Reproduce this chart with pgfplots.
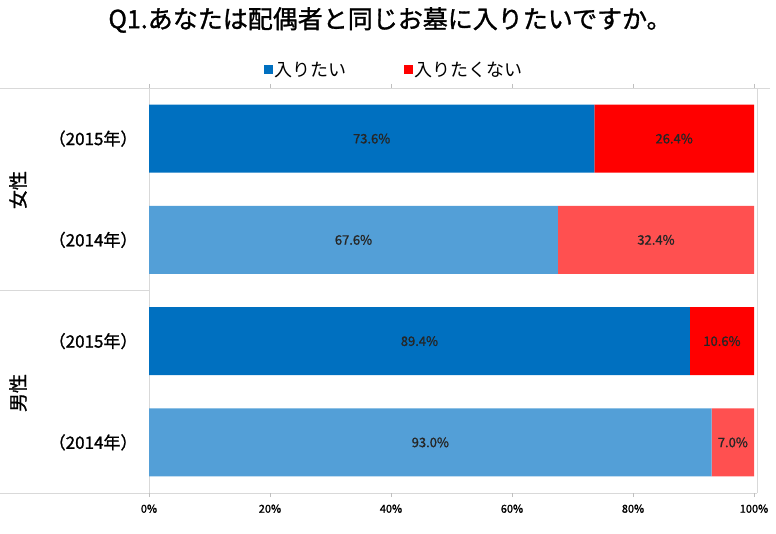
\documentclass[border=0pt]{standalone}
\usepackage{fontspec}
\setmainfont{Noto Sans CJK JP}
\newfontfamily\semibold[FakeBold=1.2]{Noto Sans CJK JP}
\usepackage{pgfplots}
\pgfplotsset{compat=1.18}
\definecolor{blueA}{HTML}{0070C0}
\definecolor{blueB}{HTML}{539FD7}
\definecolor{redA}{HTML}{FF0000}
\definecolor{redB}{HTML}{FF5050}
\definecolor{rule}{HTML}{D9D9D9}

\begin{document}
\begin{tikzpicture}[x=1pt,y=1pt]
\useasboundingbox (0,0) rectangle (776,533);

% frame lines
\draw[rule] (0,445) -- (770,445);
\draw[rule] (0,243) -- (149,243);
\draw[rule] (149,40) -- (149,445);
\draw[rule] (757,40) -- (757,445);
\draw[rule] (0,40) -- (757,40);

\begin{axis}[
    at={(149pt,40pt)}, anchor=south west,
    scale only axis, width=605pt, height=405pt,
    xbar stacked, bar width=68pt,
    xmin=0, xmax=100, ymin=-0.5, ymax=3.5,
    axis line style={draw=none},
    ytick={0,1,2,3},
    yticklabels={（2014年）,（2015年）,（2014年）,（2015年）},
    ytick style={draw=none},
    yticklabel style={font=\semibold\fontsize{17}{19}\selectfont, xshift=-4pt},
    xtick={0,20,40,60,80,100},
    xticklabels={0\%,20\%,40\%,60\%,80\%,100\%},
    xtick style={draw=gray!50},
    tick align=outside, major tick length=4pt,
    xticklabel style={font=\semibold\fontsize{11}{12}\selectfont, yshift=-4pt},
    legend style={at={(0.405,1.044)}, anchor=center, draw=none, fill=none,
        font=\fontsize{18}{20}\selectfont,
        /tikz/every even column/.append style={column sep=55pt}},
    legend columns=2,
    legend image code/.code={\fill[#1] (0pt,-4pt) rectangle (9pt,5pt);},
]
\addplot[fill=blueA, draw=none] coordinates {(0,0) (89.4,1) (0,2) (73.6,3)};
\addlegendentry{入りたい}
\addplot[fill=blueB, draw=none, forget plot] coordinates {(93.0,0) (0,1) (67.6,2) (0,3)};
\addplot[fill=redA, draw=none] coordinates {(0,0) (10.6,1) (0,2) (26.4,3)};
\addlegendentry{入りたくない}
\addplot[fill=redB, draw=none, forget plot] coordinates {(7.0,0) (0,1) (32.4,2) (0,3)};
\end{axis}

\begin{axis}[
    at={(149pt,40pt)}, anchor=south west,
    scale only axis, width=605pt, height=405pt,
    xmin=0, xmax=100, ymin=-0.5, ymax=3.5,
    hide axis,
]
\addplot[only marks, mark=*, mark size=0pt, mark options={draw=none, fill=none},
    point meta=explicit symbolic,
    nodes near coords={\pgfplotspointmeta\%},
    every node near coord/.append style={anchor=center, font=\semibold\fontsize{13}{14}\selectfont, text=black!85}]
    table[meta=lab] {
x    y lab
36.8 3 73.6
86.8 3 26.4
33.8 2 67.6
83.8 2 32.4
44.7 1 89.4
94.7 1 10.6
46.5 0 93.0
96.5 0 7.0
};
\end{axis}

\node at (390,513) {\semibold\fontsize{25}{28}\selectfont Q1.あなたは配偶者と同じお墓に入りたいですか。};
\node[rotate=90] at (18,343) {\semibold\fontsize{19}{21}\selectfont 女性};
\node[rotate=90] at (18,140) {\semibold\fontsize{19}{21}\selectfont 男性};
\end{tikzpicture}
\end{document}
